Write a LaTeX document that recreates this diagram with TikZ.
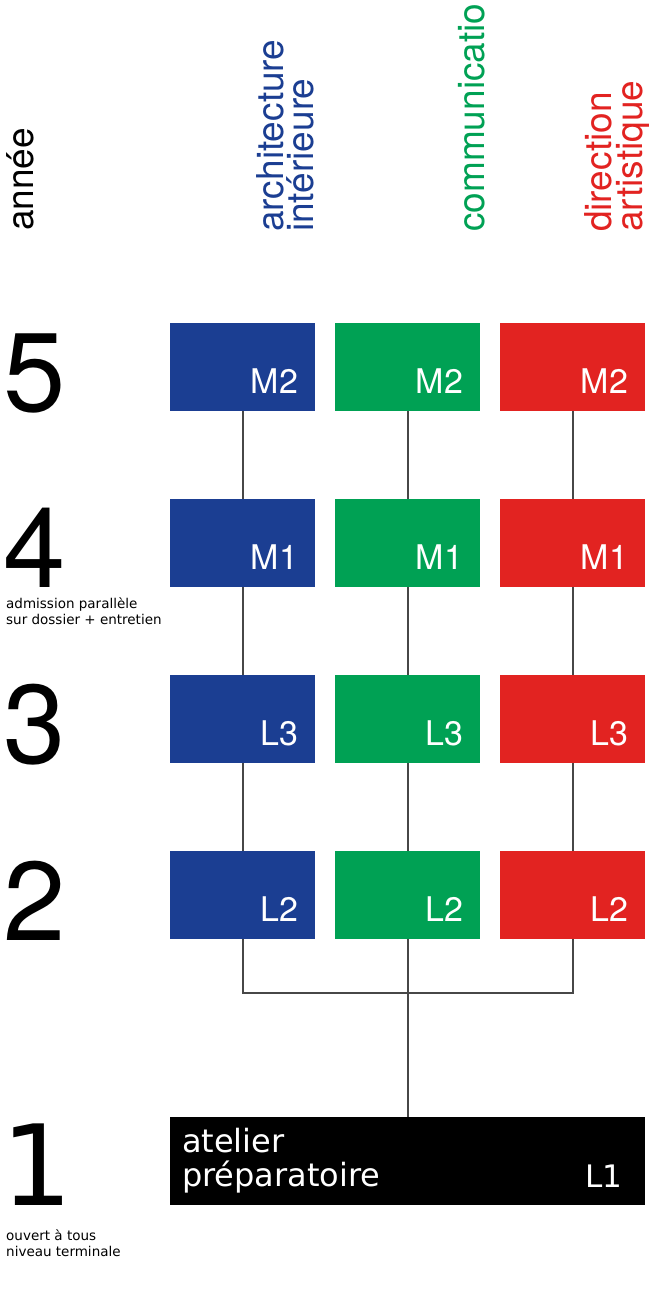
\documentclass[tikz,border=0pt]{standalone}
\usepackage{fontspec}
\setmainfont{TeX Gyre Heros}
\newfontfamily\grot{DejaVu Sans}
\usetikzlibrary{positioning}
\definecolor{archi}{RGB}{27,62,146}
\definecolor{comm}{RGB}{0,161,84}
\definecolor{dirart}{RGB}{226,35,33}
\tikzstyle{bloc} = [rectangle,
minimum width=145pt,
minimum height=88pt,
inner sep=0pt,
text=white]
\tikzstyle{tag} = [label distance=0pt, anchor=base east, xshift=-17pt, yshift=18pt, inner sep=0pt, text=white, font=\fontsize{34}{34}\selectfont]
\tikzstyle{titre} = [rotate=90, anchor=base west, inner sep=0pt, font=\fontsize{37}{37}\selectfont]
\tikzstyle{annee} = [anchor=base west, inner sep=0pt, font=\fontsize{112}{112}\selectfont]
\tikzstyle{note} = [anchor=north west, inner sep=0pt, align=left, font=\grot\fontsize{13.5}{16.5}\selectfont]
\tikzstyle{link} = [line width=2pt, draw=black!72]

\begin{document}
\begin{tikzpicture}[node distance=176pt, x=1pt, y=1pt]
\useasboundingbox (0,0) rectangle (648,-1300);

% en-tetes
\node (t0) [titre] at (33,-231) {année};
\node (t1a) [titre, text=archi] at (283,-232) {architecture};
\node (t1b) [titre, text=archi] at (313,-232) {intérieure};
\node (t2) [titre, text=comm] at (484,-232) {communicatio};
\node (t3a) [titre, text=dirart] at (611,-232) {direction};
\node (t3b) [titre, text=dirart] at (642,-232) {artistique};

% annees
\node (y5) [annee] at (3,-411) {5};
\node (y4) [annee] at (3,-587) {4};
\node (y3) [annee] at (3,-763) {3};
\node (y2) [annee] at (3,-940) {2};
\node (y1) [annee, font=\grot\fontsize{112}{112}\selectfont] at (1,-1205) {1};
\node (n4) [note] at (6,-597) {admission parallèle\\sur dossier + entretien};
\node (n1) [note] at (6,-1229) {ouvert à tous\\niveau terminale};

% blocs
\node (ia5) [bloc, fill=archi, label={[tag]south east:M2}] at (242.5,-367) {};
\node (cm5) [bloc, fill=comm, right of=ia5, xshift=-11pt, label={[tag]south east:M2}] {};
\node (da5) [bloc, fill=dirart, right of=cm5, xshift=-11pt, label={[tag]south east:M2}] {};
\node (ia4) [bloc, fill=archi, below of=ia5, label={[tag]south east:M1}] {};
\node (cm4) [bloc, fill=comm, below of=cm5, label={[tag]south east:M1}] {};
\node (da4) [bloc, fill=dirart, below of=da5, label={[tag]south east:M1}] {};
\node (ia3) [bloc, fill=archi, below of=ia4, label={[tag]south east:L3}] {};
\node (cm3) [bloc, fill=comm, below of=cm4, label={[tag]south east:L3}] {};
\node (da3) [bloc, fill=dirart, below of=da4, label={[tag]south east:L3}] {};
\node (ia2) [bloc, fill=archi, below of=ia3, label={[tag]south east:L2}] {};
\node (cm2) [bloc, fill=comm, below of=cm3, label={[tag]south east:L2}] {};
\node (da2) [bloc, fill=dirart, below of=da3, label={[tag]south east:L2}] {};
\node (l1) [bloc, fill=black, minimum width=475pt, text width=451pt, align=left,
  font=\grot\fontsize{32}{34}\selectfont, below of=cm2, yshift=-90pt,
  label={[tag, xshift=-6pt, font=\grot\fontsize{31}{31}\selectfont]south east:L1}] {atelier\\préparatoire};
\node (meet) [coordinate, below of=cm2, yshift=78pt] {};

% liaisons
\draw [link] (ia5) -- (ia4);
\draw [link] (ia4) -- (ia3);
\draw [link] (ia3) -- (ia2);
\draw [link] (cm5) -- (cm4);
\draw [link] (cm4) -- (cm3);
\draw [link] (cm3) -- (cm2);
\draw [link] (da5) -- (da4);
\draw [link] (da4) -- (da3);
\draw [link] (da3) -- (da2);
\draw [link] (ia2) |- (meet) -| (da2);
\draw [link] (cm2) -- (l1);

\end{tikzpicture}
\end{document}
